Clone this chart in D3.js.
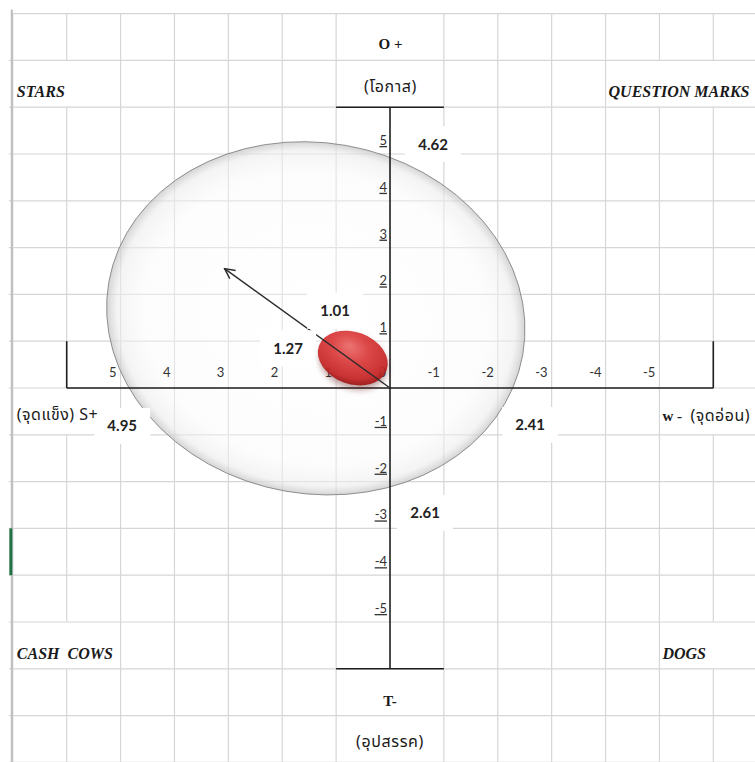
<!DOCTYPE html>
<html>
<head>
<meta charset="utf-8">
<script src="https://cdn.jsdelivr.net/npm/d3@7"></script>
<style>
  html, body { margin: 0; padding: 0; background: #fff; }
  svg { display: block; }
  text { white-space: pre; }
</style>
</head>
<body>
<svg id="chart" width="755" height="762"></svg>
<script>
// ---------------- DATA ----------------
const xTickValues = [5, 4, 3, 2, 1, 0, -1, -2, -3, -4, -5];
const yTickValues = [5, 4, 3, 2, 1, -1, -2, -3, -4, -5];
const quadrantNames = ["STARS", "QUESTION MARKS", "CASH  COWS", "DOGS"];
const axisTitleTop = ["O +", "(โอกาส)"];
const axisTitleBottom = ["T-", "(อุปสรรค)"];
const axisTitleLeft = "(จุดแข็ง) S+";
const axisTitleRightA = "w - ";
const axisTitleRightB = " (จุดอ่อน)";
// score values and where their labels sit (S/W units, O/T units)
const scoreValues = [4.62, 4.95, 2.41, 2.61, 1.27, 1.01];
const scoreLabelX = [-0.80, 4.97, -2.60, -0.65, 1.89, 1.02];
const scoreLabelY = [5.21, -0.81, -0.79, -2.67, 0.85, 1.65];
// big ellipse (centre and semi-axes in data units)
const ellipseCenter = [1.377, 1.489];
const ellipseRadii = [3.9, 3.75];
// position bubble
const bubbleCenter = [0.69, 0.64];
// strategy arrow from origin to tip
const arrowFrom = [0, 0];
const arrowTo = [3.07, 2.55];

// ---------------- SCALES ----------------
const svg = d3.select("#chart");
const W = 755, H = 762;
const X = d3.scaleLinear().domain([6, -6]).range([66.7, 713.3]);
const Y = d3.scaleLinear().domain([6, -6]).range([107.2, 668.8]);
const ux = Math.abs(X(1) - X(0)), uy = Math.abs(Y(1) - Y(0));

svg.append("rect").attr("width", W).attr("height", H).attr("fill", "#fff");

const defs = svg.append("defs");
const eg = defs.append("radialGradient").attr("id", "ellGrad");
[[0, "#ffffff", 0.3], [0.82, "#f9f9f9", 0.42], [0.95, "#ececec", 0.6], [1, "#c9c9c9", 0.8]]
  .forEach(s => eg.append("stop").attr("offset", s[0]).attr("stop-color", s[1]).attr("stop-opacity", s[2]));
const rg = defs.append("radialGradient").attr("id", "redGrad")
  .attr("cx", "0.45").attr("cy", "0.4").attr("r", "0.6").attr("fx", "0.4").attr("fy", "0.3");
[[0, "#f07070"], [0.45, "#de4040"], [0.85, "#c92a2a"], [1, "#a01818"]]
  .forEach(s => rg.append("stop").attr("offset", s[0]).attr("stop-color", s[1]));
const blur = defs.append("filter").attr("id", "blur3").attr("x", "-50%").attr("y", "-50%").attr("width", "200%").attr("height", "200%");
blur.append("feGaussianBlur").attr("stdDeviation", 3);
defs.append("marker").attr("id", "arrowHead").attr("viewBox", "0 0 12 12")
  .attr("refX", 11).attr("refY", 6).attr("markerWidth", 12).attr("markerHeight", 12)
  .attr("markerUnits", "userSpaceOnUse").attr("orient", "auto")
  .append("path").attr("d", "M1,1 L11,6 L1,11").attr("fill", "none")
  .attr("stroke", "#2a2a2a").attr("stroke-width", 1.4);

// ---------------- GRID ----------------
const gridColor = "#d6d6d6";
const gx = d3.range(7, -8, -1);   // vertical lines
const gy = d3.range(8, -9, -1);   // horizontal lines
// vertical segments skipped (merged cells / axis): [xValue, yTop, yBottom]
const skipV = [[0, 8, 6], [0, -6, -8], [0, 6, -6], [6, 7, 6], [-5, 7, 6], [-6, 7, 6],
               [6, -5, -6], [-6, -5, -6], [6, 0, -1], [-6, 0, -1]];
const g = svg.append("g");
gx.forEach(v => {
  for (let r = 8; r > -8; r--) {
    if (skipV.some(s => s[0] === v && r <= s[1] && r - 1 >= s[2])) continue;
    g.append("line").attr("x1", X(v)).attr("x2", X(v)).attr("y1", Y(r)).attr("y2", Y(r - 1))
      .attr("stroke", gridColor).attr("stroke-width", 1.2);
  }
});
gy.forEach(v => {
  const x0 = v === 8 ? X(7) - 2 : X(7) - 4;
  g.append("line").attr("x1", x0).attr("x2", W).attr("y1", Y(v)).attr("y2", Y(v))
    .attr("stroke", gridColor).attr("stroke-width", 1.2);
});
// sheet left border + selected row marker
g.append("line").attr("x1", X(7) - 1).attr("x2", X(7) - 1).attr("y1", Y(8) - 4).attr("y2", H)
  .attr("stroke", "#bdbdbd").attr("stroke-width", 2);
g.append("line").attr("x1", X(7) - 2).attr("x2", X(7) - 2).attr("y1", Y(-3)).attr("y2", Y(-4))
  .attr("stroke", "#217346").attr("stroke-width", 3);

// ---------------- BIG ELLIPSE ----------------
const ecx = X(ellipseCenter[0]), ecy = Y(ellipseCenter[1]);
const erx = ellipseRadii[0] * ux, ery = ellipseRadii[1] * uy;
svg.append("ellipse").attr("cx", ecx).attr("cy", ecy).attr("rx", erx).attr("ry", ery)
  .attr("transform", `rotate(10,${ecx},${ecy})`)
  .attr("fill", "url(#ellGrad)").attr("stroke", "#7a7a7a").attr("stroke-width", 0.9)
  .attr("stroke-opacity", 0.85);

// ---------------- AXES ----------------
const axisColor = "#1e1e1e";
const ax = svg.append("g").attr("stroke", axisColor).attr("stroke-width", 1.6);
ax.append("line").attr("x1", X(0)).attr("x2", X(0)).attr("y1", Y(6)).attr("y2", Y(-6));
ax.append("line").attr("x1", X(1)).attr("x2", X(-1)).attr("y1", Y(6)).attr("y2", Y(6));
ax.append("line").attr("x1", X(1)).attr("x2", X(-1)).attr("y1", Y(-6)).attr("y2", Y(-6));
ax.append("line").attr("x1", X(6)).attr("x2", X(-6)).attr("y1", Y(0)).attr("y2", Y(0));
ax.append("line").attr("x1", X(6)).attr("x2", X(6)).attr("y1", Y(1)).attr("y2", Y(0));
ax.append("line").attr("x1", X(-6)).attr("x2", X(-6)).attr("y1", Y(1)).attr("y2", Y(0));

const sansNum = "Lato, 'Open Sans', 'Liberation Sans', sans-serif";
const serif = "'Liberation Serif', 'Times New Roman', serif";
const thai = "'Noto Sans Thai', 'Noto Sans Thai UI', 'Loma', 'Garuda', 'Tlwg Typo', 'Noto Sans', 'DejaVu Sans', sans-serif";

svg.append("g").selectAll("text").data(xTickValues).join("text")
  .attr("x", d => X(d) - 4).attr("y", Y(0) - 11).attr("text-anchor", "end")
  .attr("font-family", sansNum).attr("font-size", 13).attr("fill", "#333")
  .text(d => d);
svg.append("g").selectAll("text").data(yTickValues).join("text")
  .attr("x", X(0) - 3).attr("y", d => Y(d) - 9).attr("text-anchor", "end")
  .attr("font-family", sansNum).attr("font-size", 13).attr("fill", "#333")
  .attr("text-decoration", "underline")
  .text(d => d);

// ---------------- BUBBLE ----------------
const bx = X(bubbleCenter[0]), by = Y(bubbleCenter[1]);
svg.append("ellipse").attr("cx", bx + 2).attr("cy", by + 4).attr("rx", 35).attr("ry", 26)
  .attr("transform", `rotate(20,${bx},${by})`).attr("fill", "#5a0c0c").attr("opacity", 0.4)
  .attr("filter", "url(#blur3)");
svg.append("ellipse").attr("cx", bx).attr("cy", by).attr("rx", 36).attr("ry", 26)
  .attr("transform", `rotate(20,${bx},${by})`).attr("fill", "url(#redGrad)").attr("opacity", 0.93);

// ---------------- ARROW ----------------
svg.append("line").attr("x1", X(arrowFrom[0])).attr("y1", Y(arrowFrom[1]))
  .attr("x2", X(arrowTo[0])).attr("y2", Y(arrowTo[1]))
  .attr("stroke", "#2a2a2a").attr("stroke-width", 1.4).attr("marker-end", "url(#arrowHead)");

// ---------------- SCORE LABELS ----------------
const lab = svg.append("g").selectAll("g").data(scoreValues).join("g")
  .attr("transform", (d, i) => `translate(${X(scoreLabelX[i])},${Y(scoreLabelY[i])})`);
lab.append("rect").attr("x", -28).attr("y", -18).attr("width", 56).attr("height", 36).attr("fill", "#fff");
lab.append("text").attr("text-anchor", "middle").attr("dy", "0.36em")
  .attr("font-family", sansNum).attr("font-weight", 700).attr("font-size", 15).attr("fill", "#222")
  .text(d => d.toFixed(2));

// ---------------- TITLES ----------------
const t = svg.append("g");
t.append("text").attr("x", X(0) + 0.5).attr("y", Y(7) - 11).attr("text-anchor", "middle")
  .attr("font-family", serif).attr("font-weight", 700).attr("font-size", 15).attr("fill", "#1a1a1a")
  .text(axisTitleTop[0]);
t.append("text").attr("x", X(0) + 0.5).attr("y", Y(6) - 15).attr("text-anchor", "middle")
  .attr("font-family", thai).attr("font-size", 16).attr("letter-spacing", 0.6).attr("fill", "#1a1a1a")
  .text(axisTitleTop[1]);
t.append("text").attr("x", X(0)).attr("y", Y(-6) + 37).attr("text-anchor", "middle")
  .attr("font-family", serif).attr("font-weight", 700).attr("font-size", 15).attr("fill", "#1a1a1a")
  .text(axisTitleBottom[0]);
t.append("text").attr("x", X(0)).attr("y", Y(-7) + 31).attr("text-anchor", "middle")
  .attr("font-family", thai).attr("font-size", 16).attr("letter-spacing", 0.6).attr("fill", "#1a1a1a")
  .text(axisTitleBottom[1]);
t.append("text").attr("x", X(7) + 4).attr("y", Y(-1) - 15)
  .attr("font-family", thai).attr("font-size", 16).attr("letter-spacing", 0.5).attr("fill", "#1a1a1a")
  .text(axisTitleLeft);
const wt = t.append("text").attr("x", X(-5) + 3).attr("y", Y(-1) - 14)
  .attr("fill", "#1a1a1a").attr("font-size", 16);
wt.append("tspan").attr("font-family", serif).attr("font-weight", 700).attr("font-size", 15).text(axisTitleRightA);
wt.append("tspan").attr("font-family", thai).attr("letter-spacing", 0.5).text(axisTitleRightB);

// quadrant names
const qPos = [[X(7) + 4, Y(6) - 10.5], [X(-4) + 3, Y(6) - 10.5], [X(7) + 4, Y(-6) - 10], [X(-5) + 3, Y(-6) - 10]];
t.selectAll(".q").data(quadrantNames).join("text").attr("class", "q")
  .attr("x", (d, i) => qPos[i][0]).attr("y", (d, i) => qPos[i][1])
  .attr("font-family", serif).attr("font-weight", 700).attr("font-style", "italic")
  .attr("font-size", 16).attr("fill", "#1a1a1a").text(d => d);
</script>
</body>
</html>
